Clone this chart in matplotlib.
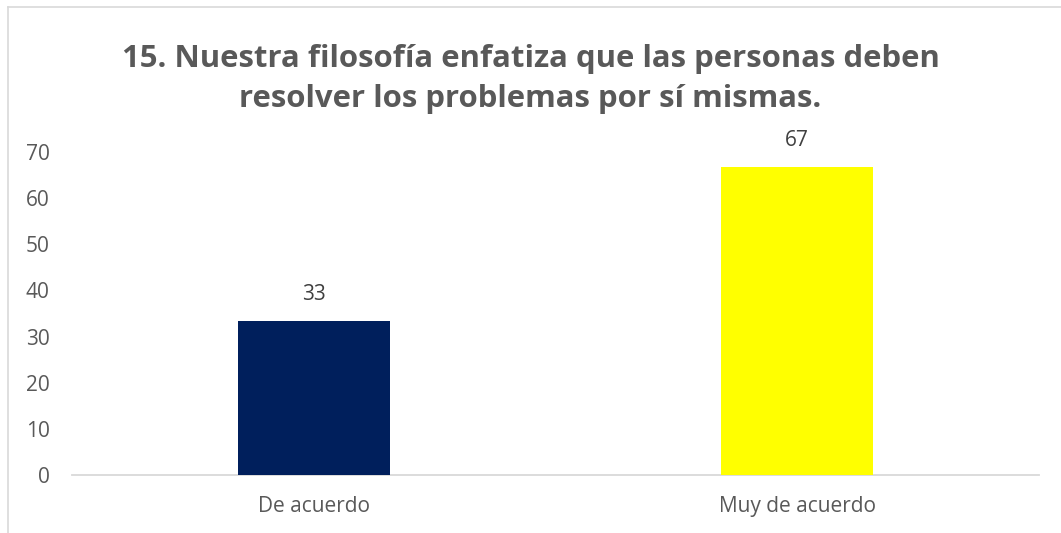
import matplotlib
matplotlib.use("Agg")
import matplotlib.pyplot as plt
from matplotlib.lines import Line2D

categories = ["De acuerdo", "Muy de acuerdo"]
values = [33.3, 66.7]
bar_colors = ["#001f5c", "#ffff00"]
yticks = [0, 10, 20, 30, 40, 50, 60, 70]
title = "15. Nuestra filosofía enfatiza que las personas deben\nresolver los problemas por sí mismas."

TEXT = "#595959"
plt.rcParams["font.family"] = ["Open Sans", "DejaVu Sans"]

W, H = 1061, 533
fig = plt.figure(figsize=(W / 100, H / 100), dpi=100)
fig.patch.set_facecolor("white")

# outer chart frame (only left and top edges are in view)
fig.add_artist(Line2D([8 / W, 8 / W], [0, 1 - 7 / H], color="#d9d9d9", lw=1.2))
fig.add_artist(Line2D([8 / W, 1], [1 - 7 / H, 1 - 7 / H], color="#d9d9d9", lw=1.2))

ax = fig.add_axes([72 / W, 58 / H, 967 / W, 323 / H])
x = range(len(categories))
bars = ax.bar(x, values, width=0.315, color=bar_colors, zorder=3)
ax.set_xlim(-0.5, len(categories) - 0.5)
ax.set_ylim(0, 70)
ax.set_yticks(yticks)
ax.set_xticks(list(x))
ax.set_xticklabels(categories)

for s in ("top", "right", "left"):
    ax.spines[s].set_visible(False)
ax.spines["bottom"].set_color("#d9d9d9")
ax.spines["bottom"].set_linewidth(1.3)
ax.tick_params(axis="both", length=0, labelcolor=TEXT, labelsize=15)
ax.tick_params(axis="y", pad=16)
ax.tick_params(axis="x", pad=15)

for b, v in zip(bars, values):
    ax.annotate(f"{v:.0f}", (b.get_x() + b.get_width() / 2, v), xytext=(0, 19),
                textcoords="offset points", ha="center", va="center",
                fontsize=15, color="#404040")

fig.text(0.5, 1 - 79 / H, title, ha="center", va="center", fontsize=22.4,
         weight="bold", color=TEXT, linespacing=1.42)

fig.savefig("out.png", dpi=100, facecolor="white")
